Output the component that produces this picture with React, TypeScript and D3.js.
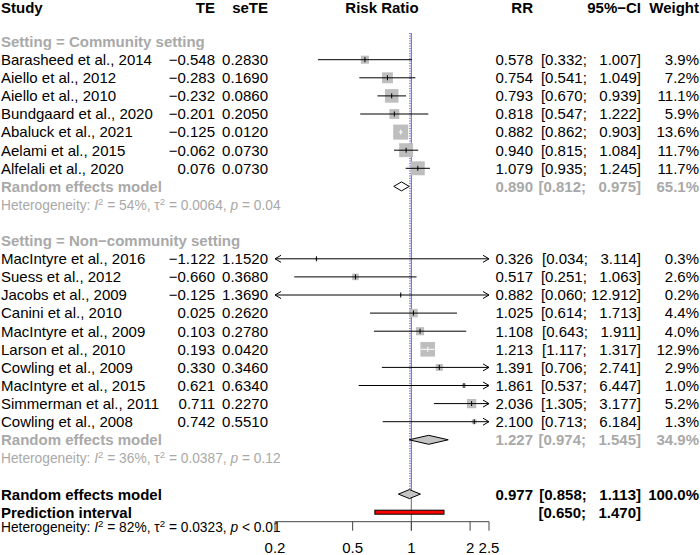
import React from 'react';
import * as d3 from 'd3';

// ---------- data ----------
const studies1 = ["Barasheed et al., 2014", "Aiello et al., 2012", "Aiello et al., 2010", "Bundgaard et al., 2020", "Abaluck et al., 2021", "Aelami et al., 2015", "Alfelali et al., 2020"];
const te1 = [-0.548, -0.283, -0.232, -0.201, -0.125, -0.062, 0.076];
const se1 = [0.283, 0.169, 0.086, 0.205, 0.012, 0.073, 0.073];
const rr1 = [0.578, 0.754, 0.793, 0.818, 0.882, 0.94, 1.079];
const lo1 = [0.332, 0.541, 0.67, 0.547, 0.862, 0.815, 0.935];
const hi1 = [1.007, 1.049, 0.939, 1.222, 0.903, 1.084, 1.245];
const w1 = [3.9, 7.2, 11.1, 5.9, 13.6, 11.7, 11.7];

const studies2 = ["MacIntyre et al., 2016", "Suess et al., 2012", "Jacobs et al., 2009", "Canini et al., 2010", "MacIntyre et al., 2009", "Larson et al., 2010", "Cowling et al., 2009", "MacIntyre et al., 2015", "Simmerman et al., 2011", "Cowling et al., 2008"];
const te2 = [-1.122, -0.66, -0.125, 0.025, 0.103, 0.193, 0.33, 0.621, 0.711, 0.742];
const se2 = [1.152, 0.368, 1.369, 0.262, 0.278, 0.042, 0.346, 0.634, 0.227, 0.551];
const rr2 = [0.326, 0.517, 0.882, 1.025, 1.108, 1.213, 1.391, 1.861, 2.036, 2.1];
const lo2 = [0.034, 0.251, 0.06, 0.614, 0.643, 1.117, 0.706, 0.537, 1.305, 0.713];
const hi2 = [3.114, 1.063, 12.912, 1.713, 1.911, 1.317, 2.741, 6.447, 3.177, 6.184];
const w2 = [0.3, 2.6, 0.2, 4.4, 4.0, 12.9, 2.9, 1.0, 5.2, 1.3];

const groupTitles = ["Setting = Community setting", "Setting = Non\u2212community setting"];
const groupRR = [0.89, 1.227];
const groupLo = [0.812, 0.974];
const groupHi = [0.975, 1.545];
const groupW = [65.1, 34.9];
const groupI2 = ["54%", "36%"];
const groupTau2 = ["0.0064", "0.0387"];
const groupP = ["= 0.04", "= 0.12"];

const overallRR = 0.977;
const overallLo = 0.858;
const overallHi = 1.113;
const overallW = 100.0;
const predLo = 0.65;
const predHi = 1.47;
const overallI2 = "82%";
const overallTau2 = "0.0323";
const overallP = "< 0.01";

const ticks = [0.2, 0.5, 1, 2, 2.5];
const tickLabels = ["0.2", "0.5", "1", "2", "2.5"];

// ---------- layout ----------
const W = 700, H = 555;
const FONT = "'Liberation Sans', Arial, Helvetica, sans-serif";
const FS = 15;
const FSH = 13.75;
const GRAY = "#a9a9a9";
const SQ = "#bebebe";
const xScale = d3.scaleLog().domain([0.2, 2.5]).range([275, 489]);
const baseY = (i: number) => 65 + (i - 3) * 18.1;
const midY = (i: number) => baseY(i) - 5.3;
const AXIS_Y = 521.7;

const X_TE = 215, X_SE = 268, X_RR = 533, X_CI = 641, X_W = 699;

const fmt = (v: number, d: number) => v.toFixed(d).replace("-", "\u2212");
const ciStr = (lo: number, hi: number) => `[${lo.toFixed(3)}; ${hi < 10 ? "  " : ""}${hi.toFixed(3)}]`;

function Het({ y, color, i2, tau2, p }: { y: number; color: string; i2: string; tau2: string; p: string }) {
  return (
    <text x={1} y={y} fontSize={FSH} fill={color} style={{ whiteSpace: 'pre' }}>
      <tspan>Heterogeneity: </tspan>
      <tspan fontStyle="italic">I</tspan>
      <tspan fontSize={FSH * 0.7} dy={-5}>2</tspan>
      <tspan dy={5}>{` = ${i2}, \u03c4`}</tspan>
      <tspan fontSize={FSH * 0.7} dy={-5}>2</tspan>
      <tspan dy={5}>{` = ${tau2}, `}</tspan>
      <tspan fontStyle="italic">p</tspan>
      <tspan>{` ${p}`}</tspan>
    </text>
  );
}

function StudyRow({ i, name, te, se, rr, lo, hi, w }: any) {
  const y = midY(i);
  const by = baseY(i);
  const [d0, d1] = xScale.domain();
  const x0 = xScale(Math.max(lo, d0));
  const x1 = xScale(Math.min(hi, d1));
  const cx = xScale(rr);
  const s = 4.07 * Math.sqrt(w);
  const inside = x0 >= cx - s / 2 && x1 <= cx + s / 2;
  const lc = inside ? "#fff" : "#000";
  return (
    <g>
      <text x={1} y={by}>{name}</text>
      <text x={X_TE} y={by} textAnchor="end">{fmt(te, 3)}</text>
      <text x={X_SE} y={by} textAnchor="end">{fmt(se, 4)}</text>
      <rect x={cx - s / 2} y={y - s / 2} width={s} height={s} fill={SQ} />
      <line x1={x0} x2={x1} y1={y} y2={y} stroke={lc} strokeWidth={1} />
      <line x1={cx} x2={cx} y1={y - 2.5} y2={y + 2.5} stroke={lc} strokeWidth={1} />
      {lo < d0 && <path d={`M${x0 + 6},${y - 3.5}L${x0},${y}L${x0 + 6},${y + 3.5}`} fill="none" stroke="#000" />}
      {hi > d1 && <path d={`M${x1 - 6},${y - 3.5}L${x1},${y}L${x1 - 6},${y + 3.5}`} fill="none" stroke="#000" />}
      <text x={X_RR} y={by} textAnchor="end">{rr.toFixed(3)}</text>
      <text x={X_CI} y={by} textAnchor="end" style={{ whiteSpace: 'pre' }}>{ciStr(lo, hi)}</text>
      <text x={X_W} y={by} textAnchor="end">{w.toFixed(1) + "%"}</text>
    </g>
  );
}

function Diamond({ y, est, lo, hi, fill }: any) {
  const h = 4.5;
  const d = `M${xScale(lo)},${y}L${xScale(est)},${y - h}L${xScale(hi)},${y}L${xScale(est)},${y + h}Z`;
  return <path d={d} fill={fill} stroke="#000" strokeWidth={1} />;
}

export default function App() {
  const groups = [
    { start: 2, names: studies1, te: te1, se: se1, rr: rr1, lo: lo1, hi: hi1, w: w1 },
    { start: 13, names: studies2, te: te2, se: se2, rr: rr2, lo: lo2, hi: hi2, w: w2 },
  ];
  const diamondFills = ["#ffffff", "#c4c4c4"];
  const overallRow = 27;
  return (
    <svg width={W} height={H} style={{ position: 'absolute', left: 0, top: 0, display: 'block' }}
      fontFamily={FONT} fontSize={FS}>
      <rect width={W} height={H} fill="#fff" />
      {/* header */}
      <g fontWeight="bold">
        <text x={1} y={12.5}>Study</text>
        <text x={X_TE} y={12.5} textAnchor="end">TE</text>
        <text x={X_SE} y={12.5} textAnchor="end">seTE</text>
        <text x={(xScale(0.2) + xScale(2.5)) / 2} y={12.5} textAnchor="middle">Risk Ratio</text>
        <text x={X_RR} y={12.5} textAnchor="end">RR</text>
        <text x={X_CI} y={12.5} textAnchor="end">{"95%\u2212CI"}</text>
        <text x={X_W} y={12.5} textAnchor="end">Weight</text>
      </g>

      {/* reference lines */}
      <line x1={xScale(1)} x2={xScale(1)} y1={33} y2={AXIS_Y + 9} stroke="#808080" strokeWidth={1.2} />
      <line x1={xScale(overallRR) + 0.5} x2={xScale(overallRR) + 0.5} y1={33} y2={midY(overallRow) - 4.5}
        stroke="#5a5aff" strokeWidth={1.3} strokeDasharray="1,1.5" />

      {groups.map((g, gi) => {
        const reRow = g.start + 1 + g.names.length;
        return (
          <g key={gi}>
            <text x={1} y={baseY(g.start)} fill={GRAY} fontWeight="bold">{groupTitles[gi]}</text>
            {g.names.map((n, k) => (
              <StudyRow key={k} i={g.start + 1 + k} name={n} te={g.te[k]} se={g.se[k]} rr={g.rr[k]}
                lo={g.lo[k]} hi={g.hi[k]} w={g.w[k]} />
            ))}
            <g fill={GRAY} fontWeight="bold">
              <text x={1} y={baseY(reRow)}>Random effects model</text>
              <text x={X_RR} y={baseY(reRow)} textAnchor="end">{groupRR[gi].toFixed(3)}</text>
              <text x={X_CI} y={baseY(reRow)} textAnchor="end" style={{ whiteSpace: 'pre' }}>{ciStr(groupLo[gi], groupHi[gi])}</text>
              <text x={X_W} y={baseY(reRow)} textAnchor="end">{groupW[gi].toFixed(1) + "%"}</text>
            </g>
            <Diamond y={midY(reRow)} est={groupRR[gi]} lo={groupLo[gi]} hi={groupHi[gi]} fill={diamondFills[gi]} />
            <Het y={baseY(reRow + 1)} color={GRAY} i2={groupI2[gi]} tau2={groupTau2[gi]} p={groupP[gi]} />
          </g>
        );
      })}

      {/* overall */}
      <g fontWeight="bold">
        <text x={1} y={baseY(overallRow) + 1}>Random effects model</text>
        <text x={X_RR} y={baseY(overallRow) + 1} textAnchor="end">{overallRR.toFixed(3)}</text>
        <text x={X_CI} y={baseY(overallRow) + 1} textAnchor="end" style={{ whiteSpace: 'pre' }}>{ciStr(overallLo, overallHi)}</text>
        <text x={X_W} y={baseY(overallRow) + 1} textAnchor="end">{overallW.toFixed(1) + "%"}</text>
        <text x={1} y={baseY(overallRow + 1)}>Prediction interval</text>
        <text x={X_CI} y={baseY(overallRow + 1)} textAnchor="end" style={{ whiteSpace: 'pre' }}>{ciStr(predLo, predHi)}</text>
      </g>
      <Diamond y={midY(overallRow)} est={overallRR} lo={overallLo} hi={overallHi} fill="#c4c4c4" />
      <rect x={xScale(predLo)} y={midY(overallRow + 1) - 2} width={xScale(predHi) - xScale(predLo)} height={4}
        fill="#ff0000" stroke="#000" strokeWidth={1} />
      <Het y={532} color="#000" i2={overallI2} tau2={overallTau2} p={overallP} />

      {/* axis */}
      <line x1={xScale(0.2)} x2={xScale(2.5)} y1={AXIS_Y} y2={AXIS_Y} stroke="#444" strokeWidth={1} />
      {ticks.map((t, k) => (
        <g key={k}>
          <line x1={xScale(t)} x2={xScale(t)} y1={AXIS_Y} y2={AXIS_Y + 9} stroke="#444" strokeWidth={1} />
          <text x={xScale(t)} y={553} textAnchor="middle">{tickLabels[k]}</text>
        </g>
      ))}
    </svg>
  );
}
